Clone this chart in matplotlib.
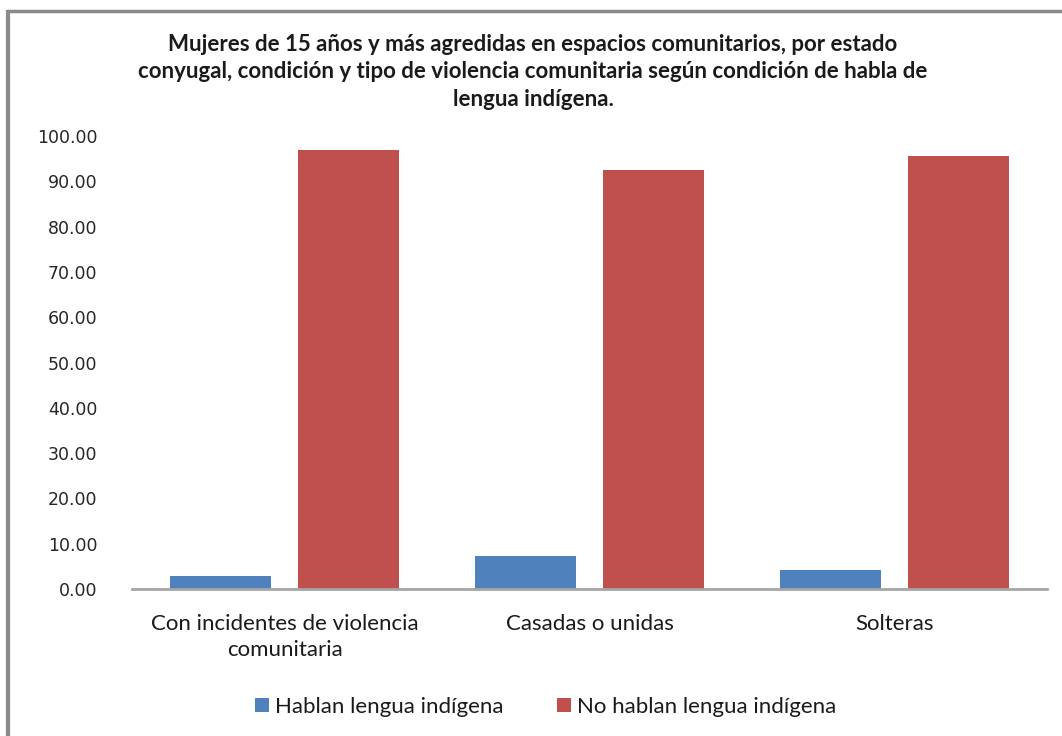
import matplotlib
matplotlib.use("Agg")
import matplotlib.pyplot as plt
import numpy as np
from matplotlib.lines import Line2D

# --- datos ---
categorias = ["Con incidentes de violencia\ncomunitaria", "Casadas o unidas", "Solteras"]
hablan = [2.8, 7.3, 4.2]
no_hablan = [96.8, 92.4, 95.6]
serie_nombres = ["Hablan lengua indígena", "No hablan lengua indígena"]
y_ticks = [0, 10, 20, 30, 40, 50, 60, 70, 80, 90, 100]

titulo = ("Mujeres de 15 años y más agredidas en espacios comunitarios, por estado\n"
          "conyugal, condición y tipo de violencia comunitaria según condición de habla de\n"
          "lengua indígena.")

AZUL = "#4F81BD"
ROJO = "#C0504D"

W, H = 1062, 736
fig = plt.figure(figsize=(W / 100, H / 100), dpi=100)
fig.patch.set_facecolor("white")

# marco gris del área del gráfico (izquierda y arriba)
fig.add_artist(Line2D([7.5 / W, 7.5 / W], [0, 1 - 10 / H], transform=fig.transFigure,
                      color="#8a8a8a", lw=3, solid_capstyle="butt"))
fig.add_artist(Line2D([6 / W, 1], [1 - 11 / H, 1 - 11 / H], transform=fig.transFigure,
                      color="#8a8a8a", lw=2.5, solid_capstyle="butt"))

ax = fig.add_axes([132 / W, 1 - 589 / H, (1047 - 132) / W, (589 - 136) / H])

x = np.arange(len(categorias))
ancho = 0.33
desp = 0.21
ax.bar(x - desp, hablan, ancho, color=AZUL, label=serie_nombres[0], zorder=2)
ax.bar(x + desp, no_hablan, ancho, color=ROJO, label=serie_nombres[1], zorder=2)

ax.set_xlim(-0.5, len(categorias) - 0.5)
ax.set_ylim(0, 100)
ax.set_yticks(y_ticks)
ax.set_yticklabels([f"{v:.2f}" for v in y_ticks], family="DejaVu Sans", fontsize=12.5,
                   color="#262626")
ax.set_xticks(x)
ax.set_xticklabels(categorias, family="Lato", fontsize=16, color="#1a1a1a",
                   linespacing=1.4)
ax.tick_params(axis="y", length=0, pad=25)
ax.tick_params(axis="x", length=0, pad=18)

for lado in ["top", "right", "left"]:
    ax.spines[lado].set_visible(False)
ax.spines["bottom"].set_color("#a6a6a6")
ax.spines["bottom"].set_linewidth(2)

fig.text(533 / W, 1 - 72 / H, titulo, ha="center", va="center", family="Lato",
         fontweight="bold", fontsize=16, color="#1a1a1a", linespacing=1.38)

leg = fig.legend(loc="center", bbox_to_anchor=(546 / W, 1 - 707 / H), ncol=2,
                 frameon=False, handlelength=0.6, handleheight=0.6, handletextpad=0.3,
                 columnspacing=2.4, prop={"family": "Lato", "size": 16})
for t in leg.get_texts():
    t.set_color("#1a1a1a")

fig.savefig("out.png", dpi=100, facecolor="white")
